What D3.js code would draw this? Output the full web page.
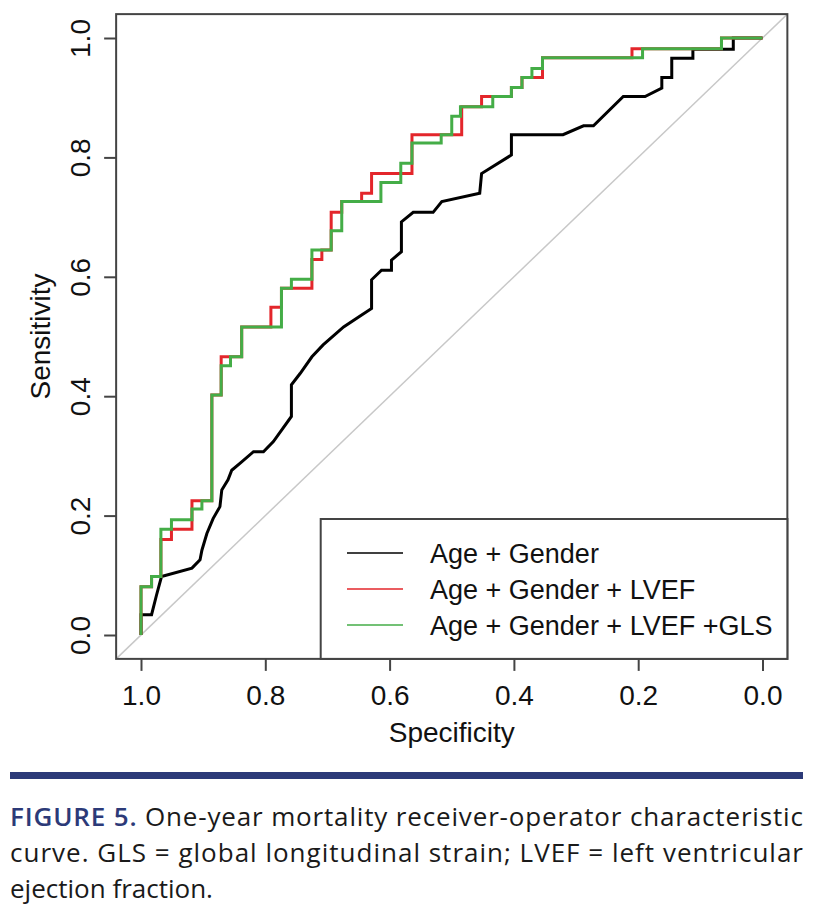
<!DOCTYPE html>
<meta charset="utf-8">
<script src="https://d3js.org/d3.v7.min.js"></script>
<body style="margin:0;background:#fff">
<div id="roc"></div>
</body>
<script>

// ROC vertices: [specificity, sensitivity]
var ageGender = [
  [1.000,0.000],[1.000,0.034],[0.983,0.034],[0.975,0.067],[0.967,0.098],[0.918,0.112],
  [0.905,0.126],[0.902,0.142],[0.894,0.170],[0.884,0.195],[0.873,0.215],[0.870,0.243],
  [0.860,0.260],[0.854,0.276],[0.838,0.290],[0.819,0.307],[0.803,0.307],[0.787,0.324],
  [0.758,0.366],[0.758,0.419],[0.744,0.438],[0.725,0.466],[0.707,0.486],[0.674,0.516],
  [0.648,0.534],[0.629,0.547],[0.629,0.595],[0.613,0.611],[0.597,0.611],[0.597,0.628],
  [0.581,0.642],[0.581,0.692],[0.562,0.708],[0.530,0.708],[0.516,0.726],[0.455,0.740],
  [0.452,0.773],[0.404,0.804],[0.404,0.838],[0.321,0.838],[0.288,0.853],[0.272,0.853],
  [0.224,0.902],[0.189,0.902],[0.162,0.916],[0.162,0.934],[0.146,0.934],[0.146,0.966],
  [0.112,0.966],[0.112,0.981],[0.047,0.981],[0.047,1.000],[0.000,1.000]
]
var ageGenderLvef = [
  [1.000,0.000],[1.000,0.081],[0.983,0.081],[0.983,0.098],[0.968,0.098],[0.968,0.160],
  [0.951,0.160],[0.951,0.177],[0.918,0.177],[0.918,0.225],[0.886,0.225],[0.886,0.402],
  [0.871,0.402],[0.871,0.466],[0.838,0.466],[0.838,0.516],[0.791,0.516],[0.791,0.549],
  [0.774,0.549],[0.774,0.581],[0.725,0.581],[0.725,0.629],[0.709,0.629],[0.709,0.645],
  [0.694,0.645],[0.694,0.708],[0.677,0.708],[0.677,0.726],[0.645,0.726],[0.645,0.740],
  [0.629,0.740],[0.629,0.773],[0.564,0.773],[0.564,0.838],[0.484,0.838],[0.484,0.885],
  [0.452,0.885],[0.452,0.902],[0.404,0.902],[0.404,0.917],[0.387,0.917],[0.387,0.934],
  [0.354,0.934],[0.354,0.967],[0.210,0.967],[0.210,0.982],[0.066,0.982],[0.066,1.000],
  [0.000,1.000]
]
var ageGenderLvefGls = [
  [1.000,0.000],[1.000,0.081],[0.983,0.081],[0.983,0.098],[0.968,0.098],[0.968,0.177],
  [0.951,0.177],[0.951,0.193],[0.918,0.193],[0.918,0.211],[0.902,0.211],[0.902,0.225],
  [0.886,0.225],[0.886,0.402],[0.871,0.402],[0.871,0.451],[0.856,0.451],[0.856,0.466],
  [0.838,0.466],[0.838,0.516],[0.774,0.516],[0.774,0.581],[0.758,0.581],[0.758,0.596],
  [0.725,0.596],[0.725,0.645],[0.694,0.645],[0.694,0.677],[0.677,0.677],[0.677,0.726],
  [0.614,0.726],[0.614,0.758],[0.582,0.758],[0.582,0.790],[0.564,0.790],[0.564,0.824],
  [0.517,0.824],[0.517,0.838],[0.500,0.838],[0.500,0.869],[0.486,0.869],[0.486,0.885],
  [0.434,0.885],[0.434,0.902],[0.404,0.902],[0.404,0.917],[0.387,0.917],[0.387,0.934],
  [0.371,0.934],[0.371,0.949],[0.354,0.949],[0.354,0.967],[0.193,0.967],[0.193,0.982],
  [0.066,0.982],[0.066,1.000],[0.000,1.000]
]

var seriesNames = ["Age + Gender", "Age + Gender + LVEF", "Age + Gender + LVEF +GLS"]
var seriesColors = ["#000000", "#e3262b", "#44ad47"]
var tickValues = [1.0, 0.8, 0.6, 0.4, 0.2, 0.0]
var captionLines = [
  ["FIGURE 5.", " One-year mortality receiver-operator characteristic"],
  ["", "curve. GLS = global longitudinal strain; LVEF = left ventricular"],
  ["", "ejection fraction."]
]

var W = 814, H = 922

var svg = d3.select("#roc")
  .append("svg")
    .attr("width", W)
    .attr("height", H)
    .style("font-family", "'Liberation Sans', Arial, sans-serif")

// scales (R style: axis runs 1 -> 0, with 4% padding around the data range)
var x = d3.scaleLinear().domain([1, 0]).range([141, 762.5])
var y = d3.scaleLinear().domain([0, 1]).range([635, 38])

var boxL = x(1.04), boxR = x(-0.04), boxT = y(1.04), boxB = y(-0.04)

// reference diagonal
svg.append("line")
  .attr("x1", x(1.04)).attr("y1", y(-0.04))
  .attr("x2", x(-0.04)).attr("y2", y(1.04))
  .attr("stroke", "#c8c8c8")
  .attr("stroke-width", 1.5)

// curves
var line = d3.line()
  .x(function(d) { return x(d[0]); })
  .y(function(d) { return y(d[1]); })

var allSeries = [ageGender, ageGenderLvef, ageGenderLvefGls]
svg.selectAll("path.roc")
  .data(allSeries)
  .enter()
  .append("path")
    .attr("class", "roc")
    .attr("fill", "none")
    .attr("stroke", function(d, i) { return seriesColors[i]; })
    .attr("stroke-width", 3)
    .attr("stroke-linejoin", "miter")
    .attr("d", line)

// x axis
var xAxis = svg.append("g")
  .attr("transform", "translate(0," + boxB + ")")
  .call(d3.axisBottom(x).tickValues(tickValues).tickFormat(d3.format(".1f"))
        .tickSize(12).tickSizeOuter(0).tickPadding(14))
xAxis.select(".domain").remove()
xAxis.selectAll("line").attr("stroke", "#444").attr("stroke-width", 2)
xAxis.selectAll("text").attr("font-size", 28).attr("fill", "#111")
  .attr("font-family", "'Liberation Sans', Arial, sans-serif")

// y axis, labels parallel to axis like R
var yAxis = svg.append("g")
  .attr("transform", "translate(" + boxL + ",0)")
  .call(d3.axisLeft(y).tickValues(tickValues.slice().reverse()).tickFormat(d3.format(".1f"))
        .tickSize(12).tickSizeOuter(0))
yAxis.select(".domain").remove()
yAxis.selectAll("line").attr("stroke", "#444").attr("stroke-width", 2)
yAxis.selectAll("text")
  .attr("font-size", 28).attr("fill", "#111")
  .attr("font-family", "'Liberation Sans', Arial, sans-serif")
  .attr("text-anchor", "middle")
  .attr("transform", "rotate(-90)")
  .attr("x", 0)
  .attr("y", -26)
  .attr("dy", 0)

// plot box
svg.append("rect")
  .attr("x", boxL).attr("y", boxT)
  .attr("width", boxR - boxL).attr("height", boxB - boxT)
  .attr("fill", "none")
  .attr("stroke", "#444")
  .attr("stroke-width", 2)

// axis titles
svg.append("text")
  .attr("x", (x(1) + x(0)) / 2)
  .attr("y", 742)
  .attr("text-anchor", "middle")
  .attr("font-size", 28)
  .attr("fill", "#111")
  .text("Specificity")

svg.append("text")
  .attr("transform", "translate(50," + (y(0) + y(1)) / 2 + ") rotate(-90)")
  .attr("text-anchor", "middle")
  .attr("font-size", 28)
  .attr("fill", "#111")
  .text("Sensitivity")

// legend
var legX = 320.7, legY = 519
svg.append("rect")
  .attr("x", legX).attr("y", legY)
  .attr("width", boxR - legX).attr("height", boxB - legY)
  .attr("fill", "#fff")
  .attr("stroke", "#444")
  .attr("stroke-width", 2)

var leg = svg.selectAll("g.leg")
  .data(seriesNames)
  .enter()
  .append("g")
    .attr("class", "leg")
    .attr("transform", function(d, i) { return "translate(0," + (553 + i * 36) + ")"; })
leg.append("line")
  .attr("x1", 347).attr("x2", 403)
  .attr("stroke", function(d, i) { return seriesColors[i]; })
  .attr("stroke-width", 1.6)
leg.append("text")
  .attr("x", 430)
  .attr("dy", "0.36em")
  .attr("font-size", 27)
  .attr("fill", "#111")
  .text(function(d) { return d; })

// caption
svg.append("rect")
  .attr("x", 10).attr("y", 772)
  .attr("width", 793).attr("height", 7)
  .attr("fill", "#2c3a78")

var cap = svg.selectAll("text.cap")
  .data(captionLines)
  .enter()
  .append("text")
    .attr("class", "cap")
    .attr("x", 10)
    .attr("y", function(d, i) { return 826 + i * 36; })
    .attr("font-family", "'Open Sans', 'Noto Sans', sans-serif")
    .attr("font-size", 26)
    .attr("font-weight", 500)
    .attr("fill", "#1a1a1a")
    .attr("textLength", function(d, i) { return i < 2 ? 793 : null; })
    .attr("lengthAdjust", "spacing")
cap.append("tspan")
  .attr("fill", "#2c3a78")
  .attr("font-weight", 600)
  .text(function(d) { return d[0]; })
cap.append("tspan")
  .text(function(d) { return d[1]; })

</script>
